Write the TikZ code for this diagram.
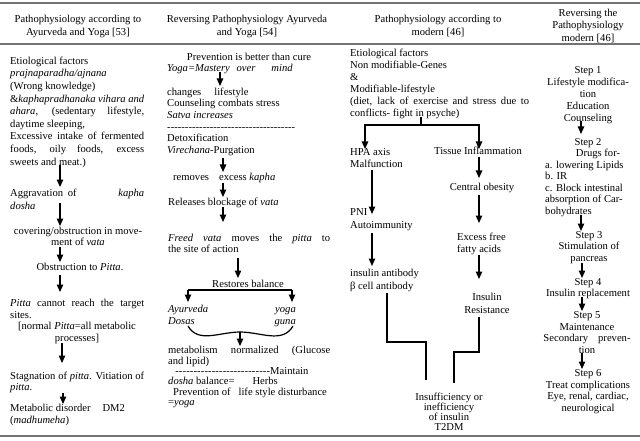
\documentclass[tikz,border=0pt]{standalone}
\usepackage{fontspec}
\setmainfont{Liberation Serif}
\usetikzlibrary{arrows.meta}
\newcommand\jl[1]{\makebox[\linewidth][s]{\spaceskip=0pt\xspaceskip=0pt #1}}
\newcommand\dashfill[1]{\leavevmode\hbox to #1{\xleaders\hbox{-}\hfill}}
\begin{document}
\begin{tikzpicture}[x=1pt,y=-1pt,
  txl/.style={inner sep=0pt, anchor=base west, align=flush left, text width=#1, font=\fontsize{10.6}{12.3}\selectfont},
  txc/.style={inner sep=0pt, anchor=base, align=flush center, text width=#1, font=\fontsize{10.6}{12.3}\selectfont},
  txr/.style={inner sep=0pt, anchor=base east, align=flush right, text width=#1, font=\fontsize{10.6}{12.3}\selectfont},
  bs/.style={font=\fontsize{10.6}{#1}\selectfont},
  arr/.style={-{Triangle[width=6.5pt,length=7.5pt]}, line width=1.2pt},
  conn/.style={line width=1.2pt},
  hrule/.style={draw=black!55, line width=1.4pt}]
\fill[white] (0,0) rectangle (640,441);
\useasboundingbox (0,0) rectangle (640,441);
% rules
\coordinate (r1a) at (0,3); \coordinate (r1b) at (640,3);
\coordinate (r2a) at (0,44); \coordinate (r2b) at (640,44);
\coordinate (r3a) at (0,436); \coordinate (r3b) at (640,436);
\draw[hrule] (r1a) -- (r1b);
\draw[hrule] (r2a) -- (r2b);
\draw[hrule] (r3a) -- (r3b);
% headers
\node[txc=170,bs=13] (h1) at (78,22.3) {Pathophysiology according to\\Ayurveda and Yoga [53]};
\node[txc=185,bs=13] (h2) at (247,22.3) {Reversing Pathophysiology Ayurveda\\and Yoga [54]};
\node[txc=170,bs=13] (h3) at (438,22.3) {Pathophysiology according to\\modern [46]};
\node[txc=100,bs=12.5] (h4) at (588,16.3) {Reversing the\\Pathophysiology\\modern [46]};
% column 1
\node[txl=134,bs=12.6] (c1a) at (10,64.3) {Etiological factors\\
\textit{prajnaparadha/ajnana}\\
(Wrong knowledge)\\
\jl{\&\textit{kaphapradhanaka vihara and}}\\
\jl{\textit{ahara}, (sedentary lifestyle,}\\
daytime sleeping,\\
\jl{Excessive intake of fermented}\\
\jl{foods, oily foods, excess}\\
sweets and meat.)};
\node[txl=134,bs=13.5] (c1b) at (10,196.3) {\jl{Aggravation\hspace{2pt} of\hfill\textit{kapha}}\\\textit{dosha}};
\node[txc=140,bs=11.5] (c1c) at (78,234.3) {covering/obstruction in move-\\ment of \textit{vata}};
\node[txc=140] (c1d) at (80,270.3) {Obstruction to \textit{Pitta}.};
\node[txl=134,bs=11.5] (c1e) at (10,306.8) {\jl{\textit{Pitta} cannot reach the target}\\sites.};
\node[txc=140,bs=12] (c1f) at (77,329.3) {[normal \textit{Pitta}=all metabolic\\processes]};
\node[txl=134,bs=11.5] (c1g) at (10,379.3) {\jl{Stagnation of \textit{pitta}. Vitiation of}\\\textit{pitta}.};
\node[txl=134,bs=12] (c1h) at (10,411.3) {Metabolic disorder\hspace{12pt}DM2\\(\textit{madhumeha})};
\coordinate (a1s) at (60,165); \coordinate (a1e) at (60,187);
\coordinate (a2s) at (60,203); \coordinate (a2e) at (60,226);
\coordinate (a3s) at (60,247); \coordinate (a3e) at (60,262);
\coordinate (a4s) at (60,275); \coordinate (a4e) at (60,292);
\coordinate (a5s) at (62,343); \coordinate (a5e) at (62,363);
\coordinate (a6s) at (63,393); \coordinate (a6e) at (63,404);
\draw[arr] (a1s) -- (a1e);
\draw[arr] (a2s) -- (a2e);
\draw[arr] (a3s) -- (a3e);
\draw[arr] (a4s) -- (a4e);
\draw[arr] (a5s) -- (a5e);
\draw[arr] (a6s) -- (a6e);
% column 2
\node[txc=160] (c2a) at (249,60.3) {Prevention is better than cure};
\node[txl=163] (c2b) at (167,71.3) {\textit{Yoga=Mastery\hspace{4pt} over}\hspace{16pt}\textit{mind}};
\node[txl=163,bs=11.6] (c2c) at (167,95.3) {changes\hspace{13pt}lifestyle\\Counseling combats stress\\\textit{Satva increases}\\\dashfill{128pt}\\Detoxification\\\textit{Virechana}-Purgation};
\node[txl=160] (c2d) at (173,180.3) {removes\hspace{10pt}excess \textit{kapha}};
\node[txl=160] (c2e) at (168,205.3) {Releases blockage of \textit{vata}};
\node[txl=162,bs=11] (c2f) at (168,241.3) {\jl{\textit{Freed vata} moves the \textit{pitta} to}\\the site of action};
\node[txc=100] (c2g) at (248,287.3) {Restores balance};
\node[txl=60,bs=12] (c2h) at (168,312.3) {\textit{Ayurveda}\\\textit{Dosas}};
\node[txr=40,bs=12] (c2i) at (296,312.3) {\textit{yoga}\\\textit{guna}};
\node[txl=162,bs=10.5] (c2j) at (168,353.8) {\jl{metabolism normalized (Glucose}\\and lipid)};
\node[txl=165,bs=10.4] (c2k) at (168,374.3) {\hspace*{7pt}\dashfill{95pt}Maintain\\\textit{dosha} balance=\hspace{18pt}Herbs\\\hspace*{5pt}Prevention of\hspace{8pt}life style disturbance\\=\textit{yoga}};
\coordinate (a7s) at (220,72); \coordinate (a7e) at (220,86);
\coordinate (a8s) at (223,158); \coordinate (a8e) at (223,172);
\coordinate (a9s) at (223,183); \coordinate (a9e) at (223,197);
\coordinate (a10s) at (223,207); \coordinate (a10e) at (223,222);
\coordinate (a11s) at (238,258); \coordinate (a11e) at (238,278);
\draw[arr] (a7s) -- (a7e);
\draw[arr] (a8s) -- (a8e);
\draw[arr] (a9s) -- (a9e);
\draw[arr] (a10s) -- (a10e);
\draw[arr] (a11s) -- (a11e);
\coordinate (bL) at (188,290); \coordinate (bR) at (292,290);
\coordinate (bLd) at (188,302); \coordinate (bRd) at (292,302);
\draw[conn] (bL) -- (bR);
\draw[arr] (bL) -- (bLd);
\draw[arr] (bR) -- (bRd);
\coordinate (cvL) at (188,326); \coordinate (cvM) at (240,332); \coordinate (cvR) at (293,326);
\draw[conn] (cvL) to[out=-60,in=180] (cvM) to[out=0,in=-120] (cvR);
\coordinate (a12e) at (240,346);
\draw[arr] (cvM) -- (a12e);
% column 3
\node[txl=179,bs=12] (c3a) at (350,56.3) {Etiological factors\\Non modifiable-Genes\\\&\\Modifiable-lifestyle\\\jl{(diet, lack of exercise and stress due to}\\conflicts- fight in psyche)};
\coordinate (s0) at (421,117); \coordinate (sj) at (421,125);
\coordinate (sLd) at (365,149); \coordinate (sRd) at (479,149);
\draw[arr] (sj) -| (sLd);
\draw[arr] (s0) -- (sj) -| (sRd);
\node[txl=80,bs=12] (c3b) at (350,155.3) {HPA axis\\Malfunction};
\node[txl=80,bs=13] (c3c) at (350,215.3) {PNI\\Autoimmunity};
\node[txl=90,bs=13] (c3d) at (350,276.3) {insulin antibody\\β cell antibody};
\node[txc=100] (c3e) at (478,154.3) {Tissue Inflammation};
\node[txc=100] (c3f) at (482,190.3) {Central obesity};
\node[txl=60,bs=12] (c3g) at (457,240.3) {Excess free\\fatty acids};
\node[txc=70,bs=13] (c3h) at (487,300.3) {Insulin\\Resistance};
\node[txc=90,bs=10] (c3i) at (449,400.3) {Insufficiency or\\inefficiency\\of insulin\\T2DM};
\coordinate (a13s) at (372,170); \coordinate (a13e) at (372,214);
\coordinate (a14s) at (372,233); \coordinate (a14e) at (372,266);
\coordinate (a15s) at (479,157); \coordinate (a15e) at (479,178);
\coordinate (a16s) at (479,195); \coordinate (a16e) at (479,223);
\coordinate (a17s) at (479,255); \coordinate (a17e) at (479,279);
\draw[arr] (a13s) -- (a13e);
\draw[arr] (a14s) -- (a14e);
\draw[arr] (a15s) -- (a15e);
\draw[arr] (a16s) -- (a16e);
\draw[arr] (a17s) -- (a17e);
\coordinate (l1) at (387,293); \coordinate (l2) at (426,342); \coordinate (l3) at (426,380);
\draw[conn] (l1) |- (l2) -- (l3);
\coordinate (q1) at (479,317); \coordinate (q2) at (454,352); \coordinate (q3) at (454,383);
\draw[conn] (q1) |- (q2) -- (q3);
% column 4
\node[txc=95,bs=12] (c4a) at (588,73.3) {Step 1\\Lifestyle modifica-\\tion\\Education\\Counseling};
\node[txc=60] (c4b) at (588,145.3) {Step 2};
\node[txc=60] (c4b2) at (598,156.3) {Drugs for-};
\node[txl=90,bs=11.5] (c4c) at (545,168.3) {a. lowering Lipids\\b. IR\\c. Block intestinal\\absorption of Car-\\bohydrates};
\node[txc=90,bs=11.5] (c4d) at (589,238.3) {Step 3\\Stimulation of\\pancreas};
\node[txc=95,bs=11] (c4e) at (588,285.3) {Step 4\\Insulin replacement};
\node[txc=95,bs=11.7] (c4f) at (587,318.3) {Step 5\\Maintenance\\Secondary\hspace{10pt}preven-\\tion};
\node[txc=95,bs=11.7] (c4g) at (588,376.3) {Step 6\\Treat complications\\Eye, renal, cardiac,\\neurological};
\coordinate (a18s) at (581,121); \coordinate (a18e) at (581,134);
\coordinate (a19s) at (581,215); \coordinate (a19e) at (581,231);
\coordinate (a20s) at (582,263); \coordinate (a20e) at (582,278);
\coordinate (a21s) at (582,297); \coordinate (a21e) at (582,311);
\coordinate (a22s) at (582,353); \coordinate (a22e) at (582,369);
\draw[arr] (a18s) -- (a18e);
\draw[arr] (a19s) -- (a19e);
\draw[arr] (a20s) -- (a20e);
\draw[arr] (a21s) -- (a21e);
\draw[arr] (a22s) -- (a22e);
\end{tikzpicture}
\end{document}
